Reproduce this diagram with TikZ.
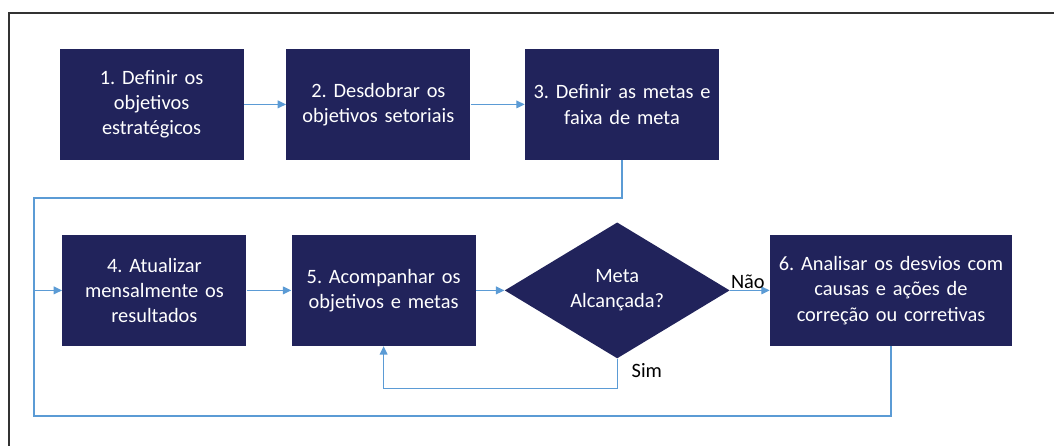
\documentclass[tikz,border=0pt]{standalone}
\usepackage{fontspec}
\setmainfont{Carlito}[WordSpace=0.8]
\usetikzlibrary{shapes.geometric,arrows.meta}
\frenchspacing

\definecolor{azulesc}{RGB}{33,35,91}
\definecolor{azulseta}{RGB}{91,155,213}

\tikzstyle{etapa} = [rectangle, fill=azulesc, text=white,
    text width=4.6cm, text centered, minimum height=2.775cm, inner sep=0pt,
    font=\fontsize{14.5}{18}\selectfont]
\tikzstyle{etapal} = [etapa, text width=4.85cm]
\tikzstyle{etapag} = [etapa, text width=6.05cm]
\tikzstyle{decisao} = [diamond, fill=azulesc, text=white, inner sep=0pt,
    minimum width=5.625cm, minimum height=3.4cm, align=center,
    font=\fontsize{14.5}{18}\selectfont]
\tikzstyle{linha} = [draw=azulseta, line width=1pt]
\tikzstyle{seta} = [linha, -{Triangle[length=6pt,width=5.5pt]}]
\tikzstyle{rotulo} = [font=\fontsize{14.5}{18}\selectfont, inner sep=1pt]

\begin{document}
\begin{tikzpicture}
	\useasboundingbox (0,0) rectangle (26.35,-11.15);
	\draw[line width=1pt, black!80] (0.225,-11.15) -- (0.225,-0.325) -- (26.35,-0.325);
	%
	\node [etapa] (ea) at (3.79,-2.61) {1. Definir os\\objetivos\\estratégicos};
	\node [etapa] (eb) at (9.46,-2.61) {2. Desdobrar os\\objetivos setoriais};
	\node [etapal] (ec) at (15.55,-2.61) {3. Definir as metas e\\faixa de meta};
	%
	\node [etapa] (ed) at (3.86,-7.26) {4. Atualizar\\mensalmente os\\resultados};
	\node [etapa] (ee) at (9.59,-7.26) {5. Acompanhar os\\objetivos e metas};
	\node [decisao] (dec) at (15.43,-7.26) {Meta\\Alcançada?};
	\node [etapag] (ef) at (22.275,-7.26) {6. Analisar os desvios com\\causas e ações de\\correção ou corretivas};
	%
	\coordinate (ret) at (0.85,-7.26);
	%
	\draw [seta] (ea) -- (eb);
	\draw [seta] (eb) -- (ec);
	\draw [linha] (ec.south) -- ++(0,-0.95) -| (ret);
	\draw [seta] (ret) -- (ed);
	\draw [seta] (ed) -- (ee);
	\draw [seta] (ee) -- (dec);
	\draw [seta] (dec) -- node [rotulo, above, pos=0.45] (nao) {Não} (ef);
	\draw [seta] (dec.south) -- ++(0,-0.75) -| (ee.south);
	\draw [linha] (ef.south) -- ++(0,-1.75) -| (ret);
	\node [rotulo, anchor=west] (sim) at (15.75,-9.27) {Sim};
\end{tikzpicture}
\end{document}
